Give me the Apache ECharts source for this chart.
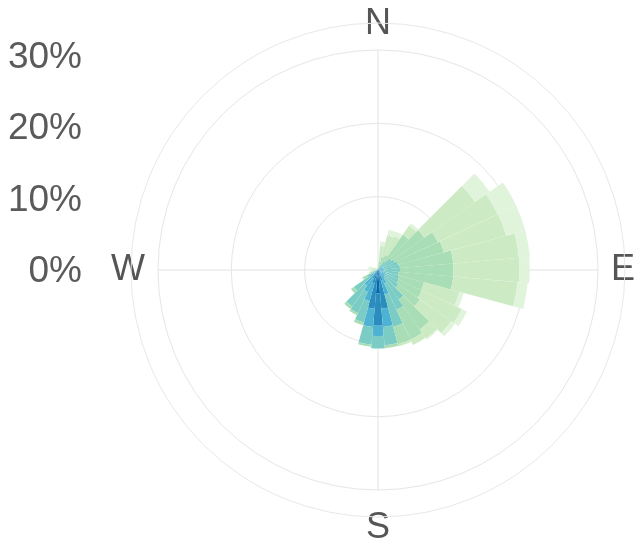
<!DOCTYPE html>
<html>
<head>
<meta charset="utf-8">
<script src="https://cdn.jsdelivr.net/npm/echarts@6/dist/echarts.min.js"></script>
<style>
  html, body { margin: 0; padding: 0; background: #fff; }
  #main { width: 641px; height: 544px; }
</style>
</head>
<body>
<div id="main"></div>
<script>
// Windrichtungen in 10°-Schritten
var directions = [];
for (var d = 0; d < 360; d += 10) directions.push(d + '°');

var compass = ['N', 'E', 'S', 'W'];

// Häufigkeit (%) je Geschwindigkeitsklasse, von innen nach außen
var speed1 = [0, 0, 0, 0, 0, 0, 0, 0, 0, 0, 0, 0, 0, 0, 0, 0.1, 0.3, 0.8, 3.2, 0.8, 0.4, 0.3, 0.2, 0.1, 0, 0, 0, 0, 0, 0, 0, 0, 0, 0, 0, 0];
var speed2 = [0, 0, 0, 0, 0.1, 0.2, 0.2, 0.2, 0.2, 0.2, 0.2, 0.2, 0.3, 0.3, 0.4, 0.6, 1.2, 4.5, 4.4, 4.5, 1.5, 1.0, 0.6, 0.3, 0.1, 0, 0, 0, 0, 0, 0, 0, 0, 0, 0, 0];
var speed3 = [0, 0, 0.2, 0.2, 0.3, 0.5, 0.5, 0.6, 0.6, 0.6, 0.6, 0.8, 0.8, 0.9, 1.0, 1.3, 2.0, 2.5, 1.4, 2.5, 2.5, 2.0, 1.8, 1.0, 0.4, 0.2, 0, 0, 0, 0, 0, 0, 0, 0, 0, 0];
var speed4 = [0, 0.3, 0.5, 0.6, 1.0, 1.5, 1.8, 2.0, 2.2, 2.2, 2.0, 2.0, 2.0, 2.2, 3.5, 4.0, 4.5, 2.5, 1.7, 2.4, 3.0, 3.2, 3.5, 2.6, 1.2, 0.5, 0.2, 0.1, 0.1, 0.1, 0, 0, 0, 0, 0, 0];
var speed5 = [0.2, 0.8, 1.2, 1.5, 4.5, 5.5, 6.5, 6.5, 7.3, 7.3, 7.5, 3.5, 3.5, 3.6, 5.0, 4.5, 2.5, 0.4, 0, 0.3, 0.4, 0.3, 0.4, 0.5, 0.6, 0.4, 0.4, 0.3, 0.3, 0.2, 0.2, 0.1, 0.1, 0.1, 0.1, 0.1];
var speed6 = [0.3, 2.2, 3.0, 2.8, 1.5, 8.5, 9.0, 8.8, 9.0, 9.0, 8.8, 5.0, 6.0, 5.2, 1.5, 0.8, 0.3, 0, 0, 0, 0, 0, 0, 0, 0.1, 0.2, 0.4, 0.5, 0.6, 0.5, 0.3, 0.2, 0.2, 0.2, 0.2, 0.2];
var speed7 = [0.2, 0.6, 0.8, 0.7, 0.4, 2.4, 2.8, 2.7, 1.5, 1.4, 1.4, 0.6, 0.8, 0.6, 0.2, 0, 0, 0, 0, 0, 0, 0, 0, 0, 0, 0, 0.2, 0.3, 0.4, 0.4, 0.2, 0.2, 0.1, 0.1, 0.1, 0.1];

var speedNames = ['0-1 m/s', '1-2 m/s', '2-3 m/s', '3-4 m/s', '4-5 m/s', '5-6 m/s', '6+ m/s'];
var speedColors = ['#0868ac', '#2b8cbe', '#4eb3d3', '#7bccc4', '#a8ddb5', '#ccebc5', '#e0f3db'];
var speedData = [speed1, speed2, speed3, speed4, speed5, speed6, speed7];

var myChart = echarts.init(document.getElementById('main'));

var series = speedData.map(function (vals, i) {
  return {
    name: speedNames[i],
    type: 'bar',
    coordinateSystem: 'polar',
    polarIndex: 0,
    stack: 'wind',
    barCategoryGap: '0%',
    data: vals,
    itemStyle: { color: speedColors[i] },
    silent: true
  };
});

var labelFont = 'Liberation Sans, Arial, sans-serif';

// Zeilenhöhe je Himmelsrichtung, damit N und S etwas tiefer sitzen
var compassLineHeight = { N: 26, E: 40, S: 50, W: 40 };
var compassItems = compass.map(function (c) {
  return { value: c, textStyle: { lineHeight: compassLineHeight[c] } };
});

var option = {
  backgroundColor: '#fff',
  animation: false,
  // Skala links (nur Beschriftung)
  grid: { left: 82, width: 1, top: 29, bottom: 272 },
  xAxis: { type: 'value', show: false },
  yAxis: {
    type: 'value',
    min: 0,
    max: 34,
    interval: 10,
    axisLine: { show: false },
    axisTick: { show: false },
    splitLine: { show: false },
    axisLabel: {
      showMaxLabel: false,
      formatter: '{value}%',
      fontSize: 37,
      fontFamily: labelFont,
      color: '#5a5a5a',
      margin: 0
    }
  },
  polar: [
    { center: [378, 270], radius: 247 },   // Balken + Außenkreis
    { center: [378, 270], radius: 220 },   // Ringe + Achsenkreuz
    { center: [378, 270], radius: 220 }    // Himmelsrichtungen
  ],
  radiusAxis: [
    { polarIndex: 0, min: 0, max: 33.7, show: false },
    {
      polarIndex: 1,
      min: 0,
      max: 30,
      interval: 10,
      axisLine: { show: false },
      axisTick: { show: false },
      axisLabel: { show: false },
      splitLine: { lineStyle: { color: '#e6e6e6', width: 1 } }
    },
    { polarIndex: 2, show: false }
  ],
  angleAxis: [
    {
      polarIndex: 0,
      type: 'category',
      data: directions,
      startAngle: 95,
      axisLine: { lineStyle: { color: '#e8e8e8' } },
      axisTick: { show: false },
      axisLabel: { show: false },
      splitLine: { show: false }
    },
    {
      polarIndex: 1,
      type: 'value',
      min: 0,
      max: 360,
      interval: 90,
      startAngle: 90,
      axisLine: { show: false },
      axisTick: { show: false },
      axisLabel: { show: false },
      splitLine: { show: true, lineStyle: { color: '#e2e2e2', width: 1 } }
    },
    {
      polarIndex: 2,
      type: 'category',
      data: compassItems,
      boundaryGap: false,
      startAngle: 90,
      axisLine: { show: false },
      axisTick: { show: false },
      splitLine: { show: false },
      axisLabel: {
        fontSize: 36,
        fontFamily: labelFont,
        color: '#555',
        margin: 13
      }
    }
  ],
  series: series
};

myChart.setOption(option);
</script>
</body>
</html>
